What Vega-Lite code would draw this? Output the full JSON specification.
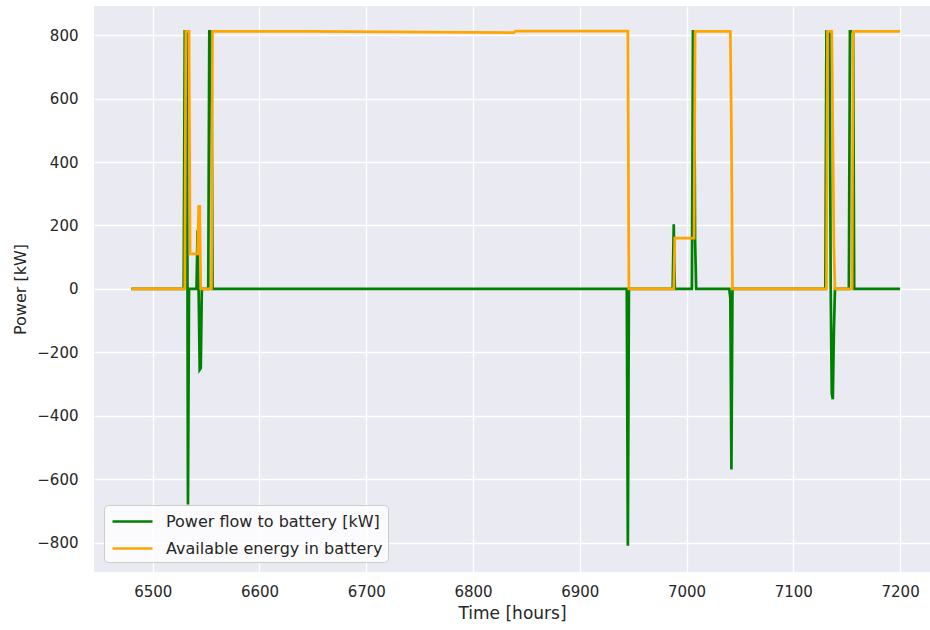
{
  "$schema": "https://vega.github.io/schema/vega-lite/v6.json",
  "width": 836,
  "height": 566,
  "autosize": {"type": "none"},
  "padding": {"left": 94, "top": 6, "right": 0, "bottom": 58},
  "background": "white",
  "config": {
    "view": {"fill": "#EAEAF2", "stroke": null},
    "font": "DejaVu Sans",
    "axis": {
      "domain": false,
      "ticks": false,
      "tickSize": 0,
      "gridColor": "white",
      "gridWidth": 1.3,
      "gridOpacity": 1,
      "labelColor": "#262626",
      "titleColor": "#262626",
      "labelFont": "DejaVu Sans",
      "titleFont": "DejaVu Sans",
      "labelFontSize": 15,
      "titleFontWeight": "normal"
    },
    "legend": {
      "labelFont": "DejaVu Sans",
      "labelFontSize": 16,
      "labelColor": "#262626",
      "labelLimit": 0
    }
  },
  "data": {
    "values": [
      {"t": 6480, "p": 0, "e": 0},
      {"t": 6529, "p": 0, "e": 0},
      {"t": 6530, "p": 812, "e": 0},
      {"t": 6531, "p": 812, "e": 812},
      {"t": 6532, "p": 812, "e": 812},
      {"t": 6533, "p": -680, "e": 812},
      {"t": 6534, "p": 0, "e": 812},
      {"t": 6535, "p": 0, "e": 110},
      {"t": 6541, "p": 0, "e": 110},
      {"t": 6542, "p": 185, "e": 110},
      {"t": 6543, "p": 0, "e": 260},
      {"t": 6544, "p": -255, "e": 260},
      {"t": 6545, "p": -250, "e": 0},
      {"t": 6546, "p": 0, "e": 0},
      {"t": 6552, "p": 0, "e": 0},
      {"t": 6553, "p": 812, "e": 0},
      {"t": 6555, "p": 812, "e": 0},
      {"t": 6556, "p": 0, "e": 812},
      {"t": 6646, "p": 0, "e": 812},
      {"t": 6838, "p": 0, "e": 808},
      {"t": 6840, "p": 0, "e": 813},
      {"t": 6944, "p": 0, "e": 813},
      {"t": 6945, "p": -810, "e": 813},
      {"t": 6946, "p": 0, "e": 0},
      {"t": 6987, "p": 0, "e": 0},
      {"t": 6988, "p": 204, "e": 0},
      {"t": 6989, "p": 0, "e": 160},
      {"t": 7005, "p": 0, "e": 160},
      {"t": 7006, "p": 812, "e": 160},
      {"t": 7007, "p": 812, "e": 160},
      {"t": 7008, "p": 150, "e": 812},
      {"t": 7009, "p": 0, "e": 812},
      {"t": 7040, "p": 0, "e": 812},
      {"t": 7041, "p": -30, "e": 812},
      {"t": 7042, "p": -570, "e": 500},
      {"t": 7043, "p": 0, "e": 0},
      {"t": 7130, "p": 0, "e": 0},
      {"t": 7131, "p": 812, "e": 0},
      {"t": 7132, "p": 812, "e": 812},
      {"t": 7134, "p": 812, "e": 812},
      {"t": 7135, "p": 0, "e": 812},
      {"t": 7136, "p": -330, "e": 812},
      {"t": 7137, "p": -348, "e": 482},
      {"t": 7138, "p": -134, "e": 134},
      {"t": 7139, "p": 0, "e": 0},
      {"t": 7152, "p": 0, "e": 0},
      {"t": 7153, "p": 812, "e": 0},
      {"t": 7155, "p": 812, "e": 0},
      {"t": 7156, "p": 812, "e": 812},
      {"t": 7157, "p": 0, "e": 812},
      {"t": 7200, "p": 0, "e": 812}
    ]
  },
  "encoding": {
    "x": {
      "field": "t",
      "type": "quantitative",
      "scale": {"domain": [6445, 7228], "nice": false, "zero": false},
      "axis": {
        "title": "Time [hours]",
        "values": [6500, 6600, 6700, 6800, 6900, 7000, 7100, 7200],
        "format": "d",
        "labelPadding": 12,
        "titleFontSize": 17,
        "titlePadding": 6
      }
    }
  },
  "layer": [
    {
      "mark": {"type": "line", "strokeWidth": 2.7},
      "encoding": {
        "y": {
          "field": "p",
          "type": "quantitative",
          "scale": {"domain": [-893, 892], "nice": false, "zero": false},
          "axis": {
            "title": "Power [kW]",
            "values": [-800, -600, -400, -200, 0, 200, 400, 600, 800],
            "labelPadding": 16,
            "titleFontSize": 16,
            "titlePadding": 8
          }
        },
        "color": {
          "datum": "Power flow to battery [kW]",
          "type": "nominal",
          "scale": {
            "domain": ["Power flow to battery [kW]", "Available energy in battery"],
            "range": ["green", "orange"]
          },
          "legend": {
            "title": null,
            "orient": "bottom-left",
            "offset": 10,
            "padding": 5,
            "symbolType": "M-2,0H2",
            "symbolSize": 400,
            "symbolOffset": 12,
            "symbolStrokeWidth": 2.7,
            "labelOffset": 22,
            "rowPadding": 7,
            "fillColor": "rgba(255,255,255,0.8)",
            "strokeColor": "#CCCCCC",
            "cornerRadius": 4
          }
        }
      }
    },
    {
      "mark": {"type": "line", "strokeWidth": 2.7},
      "encoding": {
        "y": {"field": "e", "type": "quantitative", "title": "Power [kW]"},
        "color": {"datum": "Available energy in battery", "type": "nominal"}
      }
    }
  ]
}
